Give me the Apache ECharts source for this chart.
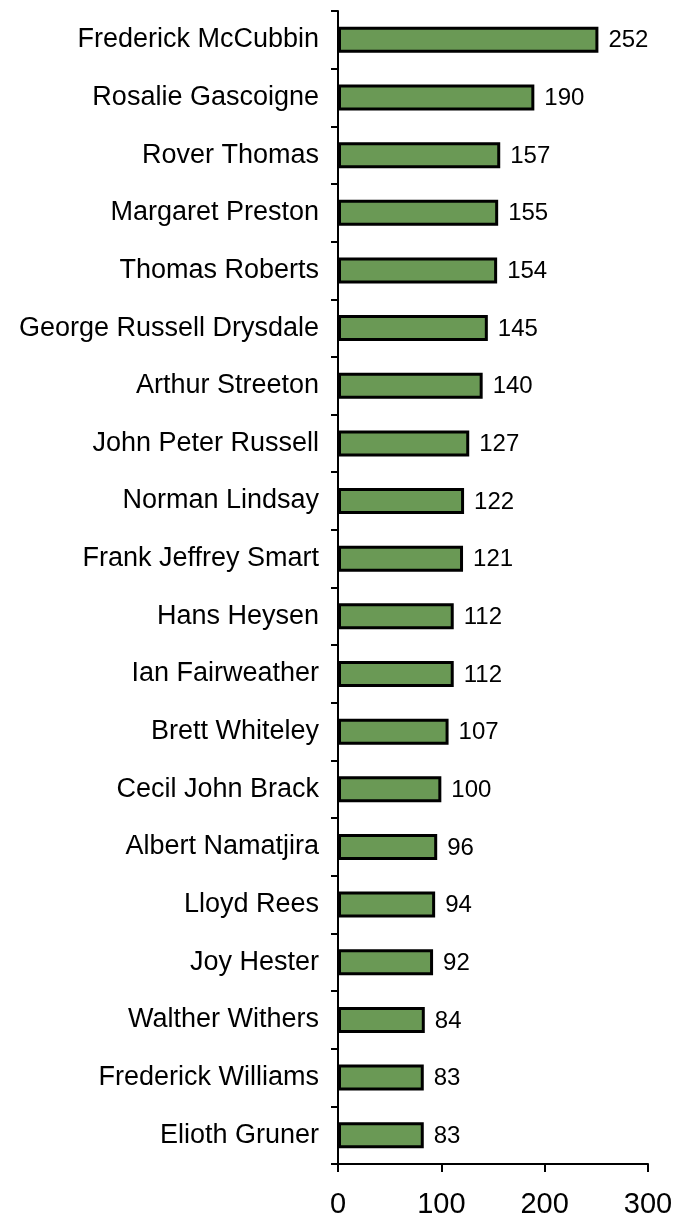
<!DOCTYPE html>
<html>
<head>
<meta charset="utf-8">
<style>
  html, body { margin: 0; padding: 0; background: #fff; }
  #chart { width: 677px; height: 1219px; }
</style>
<script src="https://cdn.jsdelivr.net/npm/echarts@6/dist/echarts.min.js"></script>
</head>
<body>
<div id="chart"></div>
<script>
// Artists, listed from the top bar downwards
const artists = [
  'Frederick McCubbin', 'Rosalie Gascoigne', 'Rover Thomas', 'Margaret Preston',
  'Thomas Roberts', 'George Russell Drysdale', 'Arthur Streeton', 'John Peter Russell',
  'Norman Lindsay', 'Frank Jeffrey Smart', 'Hans Heysen', 'Ian Fairweather',
  'Brett Whiteley', 'Cecil John Brack', 'Albert Namatjira', 'Lloyd Rees',
  'Joy Hester', 'Walther Withers', 'Frederick Williams', 'Elioth Gruner'
];
const counts = [252, 190, 157, 155, 154, 145, 140, 127, 122, 121, 112, 112, 107, 100, 96, 94, 92, 84, 83, 83];
const xTicks = [0, 100, 200, 300];

const FONT = '"Liberation Sans", Arial, sans-serif';
const chart = echarts.init(document.getElementById('chart'));

chart.setOption({
  animation: false,
  backgroundColor: '#ffffff',
  grid: { left: 338, right: 29, top: 11, bottom: 54, containLabel: false },
  xAxis: {
    type: 'value',
    min: xTicks[0],
    max: xTicks[xTicks.length - 1],
    interval: xTicks[1] - xTicks[0],
    axisLine: { show: true, lineStyle: { color: '#000', width: 2 } },
    axisTick: { show: true, length: 8, lineStyle: { color: '#000', width: 2 } },
    axisLabel: { color: '#000', fontFamily: FONT, fontSize: 29, margin: 26 },
    splitLine: { show: false }
  },
  yAxis: {
    type: 'category',
    data: artists,
    inverse: true,
    axisLine: { show: true, lineStyle: { color: '#000', width: 2 } },
    axisTick: { show: true, length: 7, alignWithLabel: false, lineStyle: { color: '#000', width: 2 } },
    axisLabel: { color: '#000', fontFamily: FONT, fontSize: 27, margin: 19 }
  },
  series: [{
    type: 'bar',
    data: counts,
    barWidth: 26,
    itemStyle: { color: '#6a9955', borderColor: '#000', borderWidth: 3 },
    label: {
      show: true,
      position: 'right',
      distance: 10,
      offset: [0, 1],
      color: '#000',
      fontFamily: FONT,
      fontSize: 24
    }
  }]
});
</script>
</body>
</html>
